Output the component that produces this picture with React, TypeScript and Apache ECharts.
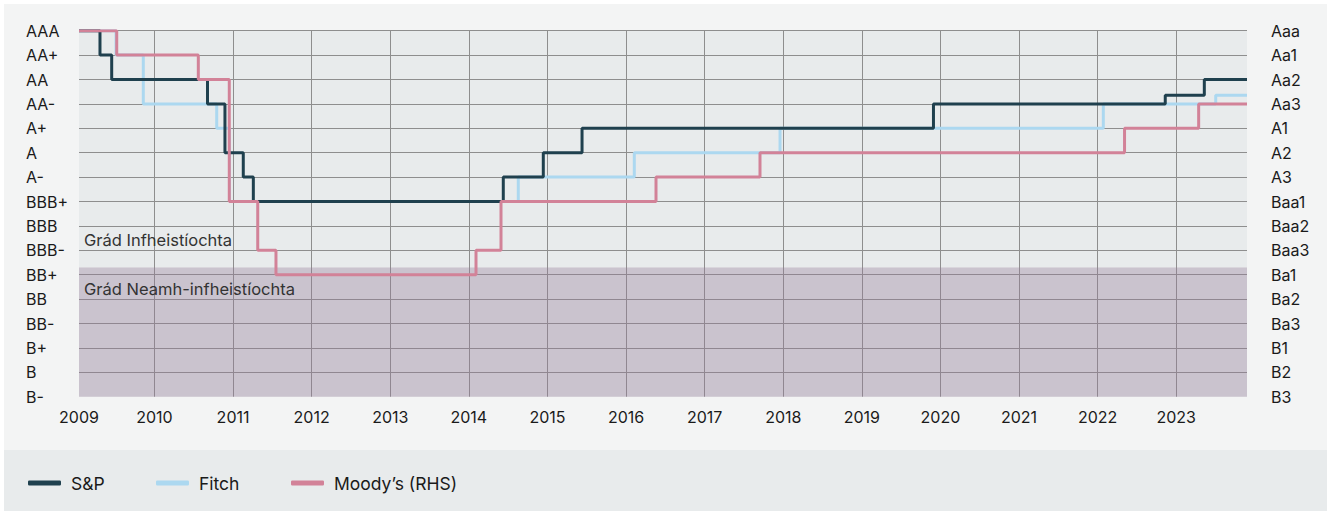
import React, { useEffect, useRef } from 'react';
import * as echarts from 'echarts';

// Rating scale (0 = lowest shown, 15 = top)
const spFitchScale = ['B-', 'B', 'B+', 'BB-', 'BB', 'BB+', 'BBB-', 'BBB', 'BBB+', 'A-', 'A', 'A+', 'AA-', 'AA', 'AA+', 'AAA'];
const moodysScale = ['B3', 'B2', 'B1', 'Ba3', 'Ba2', 'Ba1', 'Baa3', 'Baa2', 'Baa1', 'A3', 'A2', 'A1', 'Aa3', 'Aa2', 'Aa1', 'Aaa'];

// Dates as fractional years; each level holds until the next date
const spDates = [2009.04, 2009.307, 2009.456, 2010.675, 2010.897, 2011.13, 2011.258, 2014.438, 2014.947, 2015.44, 2019.911, 2022.86, 2023.357, 2023.9];
const spLevels = [15, 14, 13, 12, 10, 9, 8, 9, 10, 11, 12, 12.35, 13, 13];

const fitchDates = [2009.04, 2009.511, 2009.858, 2010.792, 2010.955, 2014.629, 2016.105, 2017.959, 2022.072, 2023.502, 2023.9];
const fitchLevels = [15, 14, 12, 11, 8, 9, 10, 11, 12, 12.35, 12.35];

const moodysDates = [2009.04, 2009.52, 2010.558, 2010.952, 2011.314, 2011.546, 2014.091, 2014.409, 2016.381, 2017.704, 2022.342, 2023.285, 2023.9];
const moodysLevels = [15, 14, 13, 8, 6, 5, 6, 8, 9, 10, 11, 12, 12];

const xStart = 2009.04;
const xEnd = 2023.9;
const subInvestmentTop = 5.3;

const seriesNames = ['S&P', 'Fitch', 'Moody\u2019s (RHS)'];
const zoneLabels = ['Gr\u00e1d Infheist\u00edochta', 'Gr\u00e1d Neamh-infheist\u00edochta'];

const zip = (xs: number[], ys: number[]) => xs.map((x, i) => [x, ys[i]]);

export default function App() {
  const ref = useRef<HTMLDivElement>(null);

  useEffect(() => {
    if (!ref.current) return;
    const chart = echarts.init(ref.current, undefined, { renderer: 'svg' });
    const font = 'Inter, "Noto Sans", sans-serif';
    const gridColor = '#8e8e8e';
    const lineBase = {
      type: 'line' as const,
      step: 'end' as const,
      showSymbol: false,
      symbol: 'none',
      lineStyle: { width: 3 },
    };
    const legendLefts = [19, 147, 282];
    const legends = seriesNames.map((n, i) => ({
      data: [n],
      left: legendLefts[i],
      top: 465,
      icon: 'roundRect',
      itemWidth: 33,
      itemHeight: 5,
      textStyle: { fontSize: 17.5, color: '#1a1a1a', fontFamily: font, padding: [0, 0, 0, 5] },
    }));
    chart.setOption({
      animation: false,
      backgroundColor: '#f3f4f4',
      textStyle: { fontFamily: font },
      grid: { left: 75, top: 26.7, width: 1168, height: 366, show: true, backgroundColor: '#e8ebec', borderWidth: 0 },
      graphic: [
        { type: 'rect', z: -100, silent: true, shape: { x: 0, y: 446, width: 1323, height: 61 }, style: { fill: '#e8ebec' } },
        { type: 'text', z: 50, silent: true, left: 80, top: 227, style: { text: zoneLabels[0], font: `16.5px ${font}`, fill: '#333333' } },
        { type: 'text', z: 50, silent: true, left: 80, top: 276, style: { text: zoneLabels[1], font: `16.5px ${font}`, fill: '#333333' } },
      ],
      legend: legends,
      xAxis: {
        type: 'value',
        min: xStart,
        max: xEnd,
        splitNumber: 15,
        minInterval: 1,
        maxInterval: 1,
        axisLine: { show: false },
        axisTick: { show: false },
        axisLabel: {
          margin: 12,
          fontSize: 16,
          color: '#1a1a1a',
          fontFamily: font,
          showMinLabel: true,
          showMaxLabel: false,
          formatter: (v: number) => {
            if (Math.abs(v - xStart) < 1e-6) return String(Math.floor(v));
            if (Math.abs(v - Math.round(v)) < 1e-6) return String(Math.round(v));
            return '';
          },
        },
        splitLine: { show: true, showMinLine: false, showMaxLine: false, lineStyle: { color: gridColor, width: 1 } },
      },
      yAxis: [
        {
          type: 'value',
          min: 0,
          max: 15,
          interval: 1,
          position: 'left',
          axisLine: { show: false },
          axisTick: { show: false },
          axisLabel: {
            align: 'left',
            margin: 53,
            fontSize: 16,
            color: '#1a1a1a',
            fontFamily: font,
            formatter: (v: number) => spFitchScale[Math.round(v)] ?? '',
          },
          splitLine: { show: true, showMinLine: false, lineStyle: { color: gridColor, width: 1 } },
        },
        {
          type: 'value',
          min: 0,
          max: 15,
          interval: 1,
          position: 'right',
          axisLine: { show: false },
          axisTick: { show: false },
          axisLabel: {
            align: 'left',
            margin: 24,
            fontSize: 16,
            color: '#1a1a1a',
            fontFamily: font,
            formatter: (v: number) => moodysScale[Math.round(v)] ?? '',
          },
          splitLine: { show: false },
        },
      ],
      series: [
        {
          type: 'line',
          name: 'zone',
          data: [[xStart, 0]],
          symbol: 'none',
          lineStyle: { opacity: 0 },
          z: 1,
          silent: true,
          markArea: {
            silent: true,
            itemStyle: { color: 'rgba(149,126,153,0.36)' },
            data: [[{ xAxis: xStart, yAxis: 0 }, { xAxis: xEnd, yAxis: subInvestmentTop }]],
          },
        },
        { ...lineBase, name: seriesNames[1], z: 3, data: zip(fitchDates, fitchLevels), color: '#acd8f0', lineStyle: { width: 3, color: '#acd8f0' } },
        { ...lineBase, name: seriesNames[0], z: 4, data: zip(spDates, spLevels), color: '#1f404e', lineStyle: { width: 3, color: '#1f404e' } },
        { ...lineBase, name: seriesNames[2], z: 5, yAxisIndex: 1, data: zip(moodysDates, moodysLevels), color: '#d28298', lineStyle: { width: 3, color: '#d28298' } },
      ],
    });
    return () => chart.dispose();
  }, []);

  return (
    <div style={{ position: 'fixed', left: 0, top: 0, width: 1330, height: 511, background: '#ffffff' }}>
      <div ref={ref} style={{ position: 'absolute', left: 4, top: 4, width: 1323, height: 507 }} />
    </div>
  );
}
